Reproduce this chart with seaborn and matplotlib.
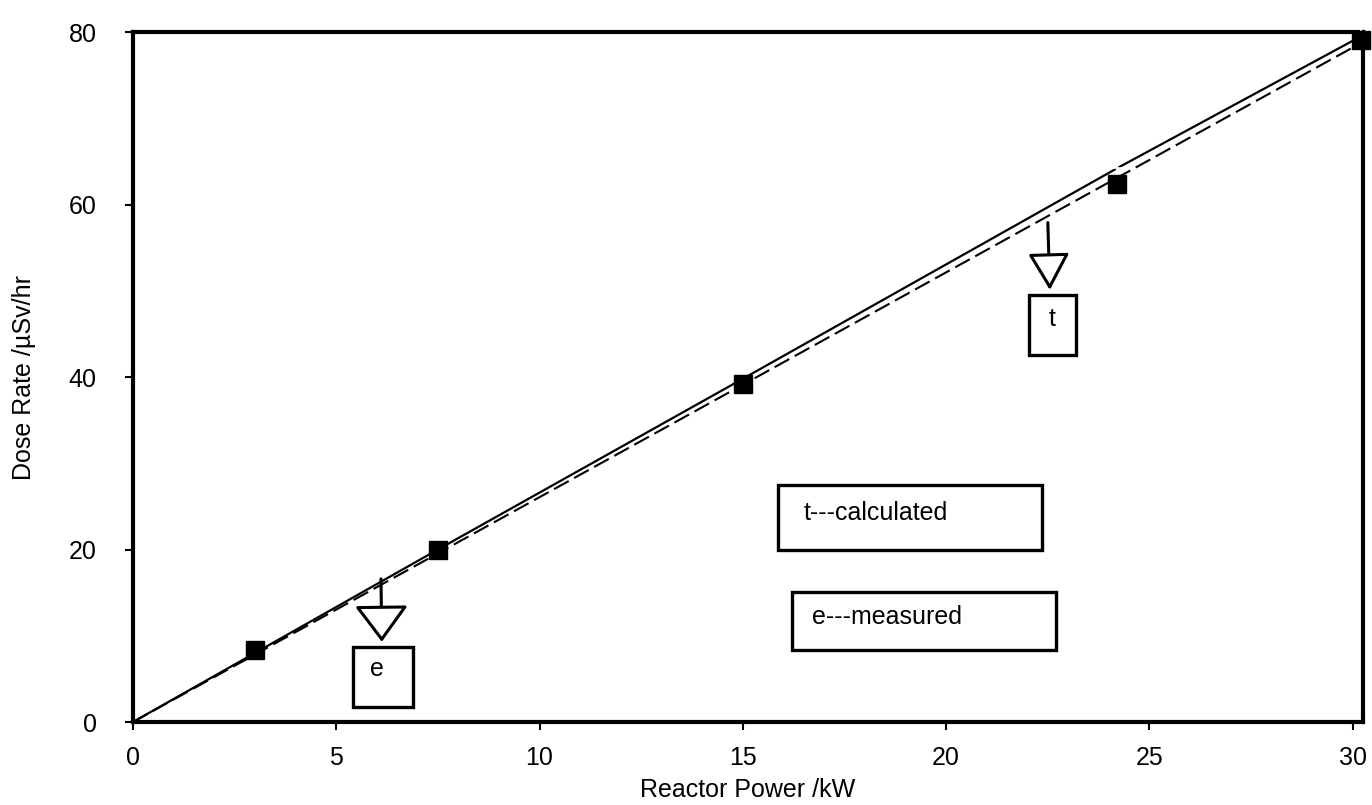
import numpy as np
import seaborn as sns
import matplotlib.pyplot as plt
from matplotlib.patches import Rectangle

# reactor power (kW) and dose rate (uSv/hr)
power = [3.0, 7.5, 15.0, 24.2, 30.2]
dose_measured = [8.3, 19.9, 39.2, 62.4, 79.1]
power_calc = [0.0, 3.0, 7.5, 15.0, 24.2, 30.2]
dose_calc = [0.0, 8.0, 20.0, 39.8, 64.2, 79.5]

x_ticks = [0, 5, 10, 15, 20, 25, 30]
y_ticks = [0, 20, 40, 60, 80]

sns.set_style('white')
plt.rcParams['font.family'] = ['Liberation Sans', 'DejaVu Sans']
plt.rcParams['text.color'] = 'black'
plt.rcParams['axes.labelcolor'] = 'black'
plt.rcParams['xtick.color'] = 'black'
plt.rcParams['ytick.color'] = 'black'

fig = plt.figure(figsize=(13.72, 8.05), dpi=100)
ax = fig.add_axes([0.0969, 0.1031, 0.8965, 0.8571])

# calculated: solid line with + markers
sns.lineplot(x=power_calc, y=dose_calc, ax=ax, color='black', lw=1.6,
             marker='+', markersize=14, markeredgewidth=1.2,
             markevery=slice(1, None), clip_on=False, zorder=3)

# measured: least-squares line through origin, dashed
px = np.array(power)
py = np.array(dose_measured)
slope = (px * py).sum() / (px * px).sum()
fit_x = np.array([0.0, power[-1]])
sns.lineplot(x=fit_x, y=slope * fit_x, ax=ax, color='black', lw=1.5,
             dashes=False, zorder=3).lines[-1].set_dashes((8, 3))

ax.plot(power, dose_measured, linestyle='none', marker='s', markersize=13,
        color='black', clip_on=False, zorder=4)

ax.set_xlim(0, 30.25)
ax.set_ylim(0, 80)
ax.set_xticks(x_ticks)
ax.set_yticks(y_ticks)
ax.set_xlabel('Reactor Power /kW', fontsize=18, labelpad=6)
ax.set_ylabel('Dose Rate /\u00b5Sv/hr', fontsize=18, labelpad=24)
ax.tick_params(axis='both', labelsize=18, direction='out', length=6,
               width=1.5, color='black', left=True, bottom=True)
ax.tick_params(axis='y', pad=20)
ax.tick_params(axis='x', pad=11)
for s in ax.spines.values():
    s.set_color('black')
    s.set_linewidth(3)

# arrows with hollow heads pointing to labels
arrow_kw = dict(arrowstyle='-|>,head_length=1.15,head_width=0.85', fc='white',
                ec='black', lw=2.2, shrinkA=0, shrinkB=0, mutation_scale=20)
ax.annotate('', xy=(6.12, 9.3), xytext=(6.1, 16.6), arrowprops=arrow_kw)
arrow_kw['arrowstyle'] = '-|>,head_length=1.15,head_width=0.65'
ax.annotate('', xy=(22.55, 50.1), xytext=(22.5, 57.9), arrowprops=arrow_kw)

box_kw = dict(fill=False, ec='black', lw=2.4, zorder=5)
ax.add_patch(Rectangle((5.41, 1.74), 1.47, 6.96, **box_kw))
ax.text(6.0, 6.2, 'e', fontsize=18, ha='center', va='center')
ax.add_patch(Rectangle((22.04, 42.55), 1.16, 6.95, **box_kw))
ax.text(22.6, 46.7, 't', fontsize=18, ha='center', va='center')

ax.add_patch(Rectangle((15.87, 19.9), 6.49, 7.6, **box_kw))
ax.text(16.5, 24.2, 't---calculated', fontsize=18, ha='left', va='center')
ax.add_patch(Rectangle((16.2, 8.35), 6.5, 6.75, **box_kw))
ax.text(16.7, 12.2, 'e---measured', fontsize=18, ha='left', va='center')

fig.savefig('out.png', dpi=100)
